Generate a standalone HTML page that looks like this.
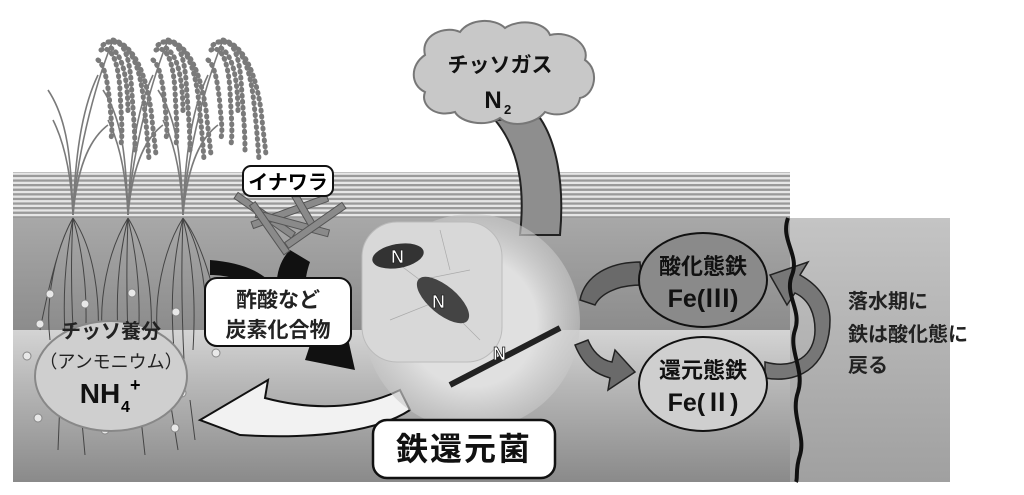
<!DOCTYPE html>
<html><head><meta charset="utf-8"><style>
html,body{margin:0;padding:0;background:#fff;}
svg{display:block;font-family:"Liberation Sans","Noto Sans CJK JP",sans-serif;}
</style></head><body>
<svg width="1024" height="495" viewBox="0 0 1024 495" xmlns="http://www.w3.org/2000/svg">
<defs>
<linearGradient id="up" x1="0" y1="0" x2="0" y2="1"><stop offset="0" stop-color="#a8a8a8"/><stop offset="1" stop-color="#8c8c8c"/></linearGradient>
<linearGradient id="low" x1="0" y1="0" x2="0" y2="1"><stop offset="0" stop-color="#d4d4d4"/><stop offset="0.35" stop-color="#b8b8b8"/><stop offset="1" stop-color="#8a8a8a"/></linearGradient>
<linearGradient id="rt" x1="0" y1="0" x2="0" y2="1"><stop offset="0" stop-color="#c4c4c4"/><stop offset="1" stop-color="#a0a0a0"/></linearGradient>
<radialGradient id="bac" cx="0.5" cy="0.5" r="0.5"><stop offset="0.6" stop-color="#e0e0e0"/><stop offset="1" stop-color="#c8c8c8" stop-opacity="0.6"/></radialGradient>
<pattern id="stripes" width="4" height="4.6" patternUnits="userSpaceOnUse"><rect width="4" height="4.6" fill="#e6e6e6"/><rect width="4" height="2.3" fill="#9a9a9a"/></pattern>
<g id="rice">
<g stroke="#7a7a7a" stroke-width="1.6" fill="none">
<path d="M0 195 C-2 140 -5 100 -25 70"/>
<path d="M0 195 C-2 150 -10 120 -20 100"/>
<path d="M0 195 C2 140 8 90 25 55"/>
<path d="M0 195 C4 150 15 120 35 105"/>
<path d="M0 195 C3 140 20 70 40 20"/>
</g>
<g stroke="#7a7a7a" stroke-width="5" stroke-linecap="round" stroke-dasharray="1 5" fill="none">
<path d="M30 25 C45 15 55 25 58 60 C60 90 62 110 62 130"/>
<path d="M28 30 C38 25 45 40 47 70 C48 95 50 110 48 125"/>
<path d="M35 22 C55 20 65 40 70 75 C73 100 75 125 76 140"/>
<path d="M25 40 C32 45 35 65 37 85 C38 100 40 110 38 118"/>
<path d="M40 20 C60 25 72 50 78 90 C80 110 82 125 83 135"/>
<path d="M38 28 C50 35 55 60 55 95"/>
</g>
</g>
</defs>
<!-- layers -->
<rect x="13" y="172" width="777" height="47" fill="url(#stripes)"/>
<rect x="790" y="218" width="160" height="264" fill="url(#rt)"/>
<rect x="13" y="218" width="777" height="112" fill="url(#up)"/>
<rect x="13" y="330" width="777" height="152" fill="url(#low)"/>
<!-- rice plants -->
<use href="#rice" x="73" y="20"/>
<use href="#rice" x="128" y="20"/>
<use href="#rice" x="183" y="20"/>
<!-- roots -->
<g stroke="#444" stroke-width="1" fill="none">
<path d="M73 218 C55 250 45 300 50 340 M73 218 C65 260 62 300 66 350 M73 218 C85 260 88 300 85 350 M73 218 C95 250 100 300 98 340 M73 218 C60 240 50 280 40 330 M73 218 C70 270 72 320 75 360"/>
<path d="M128 218 C108 250 98 300 103 340 M128 218 C118 260 115 300 119 350 M128 218 C138 260 141 300 138 350 M128 218 C148 250 153 300 151 340 M128 218 C126 270 127 320 129 360"/>
<path d="M183 218 C163 250 153 300 158 340 M183 218 C173 260 170 300 174 350 M183 218 C193 260 196 300 193 350 M183 218 C203 250 208 300 206 340 M183 218 C200 240 212 280 220 320 M183 218 C181 270 182 320 184 360"/>
<path d="M60 400 L58 450 M80 400 L85 455 M140 410 L145 455 M170 400 L178 450 M190 400 L195 440"/>
</g>
<g fill="#e8e8e8" stroke="#888" stroke-width="1">
<circle cx="50" cy="294" r="4"/><circle cx="40" cy="324" r="4"/><circle cx="27" cy="356" r="4"/><circle cx="43" cy="389" r="4"/><circle cx="38" cy="418" r="4"/><circle cx="70" cy="415" r="4"/><circle cx="105" cy="430" r="4"/><circle cx="145" cy="420" r="4"/><circle cx="175" cy="428" r="4"/><circle cx="182" cy="393" r="4"/><circle cx="216" cy="353" r="4"/><circle cx="176" cy="312" r="4"/><circle cx="132" cy="293" r="4"/><circle cx="85" cy="304" r="4"/>
</g>
<!-- cloud arrow -->
<path d="M495 120 C520 150 525 190 520 235 L560 235 C565 180 555 140 540 118 Z" fill="#8e8e8e" stroke="#222" stroke-width="2"/>
<!-- cloud -->
<path d="M425 55 C420 35 445 25 460 32 C470 18 495 18 505 28 C520 18 545 22 550 35 C570 30 590 45 585 60 C600 70 595 95 580 98 C578 112 560 118 545 112 C535 125 510 128 500 118 C485 128 460 122 455 112 C435 118 420 105 425 92 C410 85 410 65 425 55 Z" fill="#c8c8c8" stroke="#777" stroke-width="2"/>
<text x="500" y="72" text-anchor="middle" font-size="21" font-weight="bold" fill="#111">チッソガス</text>
<text x="493" y="108" text-anchor="middle" font-size="24" font-weight="bold" fill="#111">N</text>
<text x="504" y="114" font-size="13" font-weight="bold" fill="#111">2</text>
<!-- black arrow from straw -->
<path d="M290 250 C270 270 272 310 300 335 L310 345 L305 360 L355 370 L345 325 L332 338 C305 318 300 290 310 262 Z" fill="#111"/>
<path d="M210 260 C235 262 255 268 268 280 L255 290 C245 280 228 275 210 275 Z" fill="#111"/>
<!-- white arrow back to NH4 -->
<path d="M400 390 C360 410 310 410 265 398 L268 380 L200 420 L240 435 C320 440 380 430 410 410 Z" fill="#f2f2f2" stroke="#111" stroke-width="2"/>
<!-- bacteria disk -->
<circle cx="472" cy="322" r="108" fill="url(#bac)"/>
<rect x="362" y="222" width="140" height="140" rx="35" fill="#d8d8d8" stroke="#bbb"/>
<g stroke="#aaa" stroke-width="0.7" fill="none"><path d="M380 250 L420 280 L470 270 M390 320 L440 300 L480 340 M440 230 L450 270"/></g>
<ellipse cx="398" cy="256" rx="26" ry="12" fill="#333" transform="rotate(-10 398 256)"/>
<ellipse cx="443" cy="300" rx="32" ry="14" fill="#444" transform="rotate(40 443 300)"/>
<path d="M450 385 L560 328" stroke="#222" stroke-width="6"/>
<g font-size="18" font-weight="bold" fill="#fff" stroke="#222" stroke-width="0.8"><text x="391" y="263">N</text><text x="432" y="308">N</text><text x="493" y="360">N</text></g>
<!-- straw sticks -->
<g stroke="#555" stroke-width="1" fill="#8a8a8a">
<rect x="230" y="212" width="70" height="7" transform="rotate(35 265 215)"/>
<rect x="250" y="208" width="80" height="7" transform="rotate(-20 290 212)"/>
<rect x="255" y="220" width="75" height="7" transform="rotate(15 292 223)"/>
<rect x="240" y="225" width="60" height="7" transform="rotate(55 270 228)"/>
<rect x="270" y="200" width="60" height="7" transform="rotate(60 300 203)"/>
<rect x="280" y="222" width="70" height="7" transform="rotate(-35 315 225)"/>
</g>
<!-- labels -->
<rect x="243" y="166" width="90" height="30" rx="8" fill="#fff" stroke="#111" stroke-width="2"/>
<text x="288" y="189" text-anchor="middle" font-size="20" font-weight="bold">イナワラ</text>
<rect x="205" y="278" width="146" height="68" rx="12" fill="#fff" stroke="#111" stroke-width="2"/>
<text x="278" y="307" text-anchor="middle" font-size="21" font-weight="bold" fill="#222">酢酸など</text>
<text x="278" y="337" text-anchor="middle" font-size="21" font-weight="bold" fill="#222">炭素化合物</text>
<ellipse cx="111" cy="376" rx="76" ry="55" fill="#cfcfcf" stroke="#888" stroke-width="2"/>
<text x="111" y="338" text-anchor="middle" font-size="20" font-weight="bold" fill="#222">チッソ養分</text>
<text x="111" y="368" text-anchor="middle" font-size="18" fill="#222">（アンモニウム）</text>
<text x="100" y="403" text-anchor="middle" font-size="28" font-weight="bold" fill="#111">NH</text>
<text x="121" y="412" font-size="16" font-weight="bold">4</text>
<text x="130" y="391" font-size="18" font-weight="bold">+</text>
<rect x="373" y="420" width="182" height="58" rx="14" fill="#fff" stroke="#111" stroke-width="2.5"/>
<text x="464" y="460" text-anchor="middle" font-size="32" font-weight="bold" fill="#111" letter-spacing="2">鉄還元菌</text>
<!-- iron cycle arrows -->
<path d="M580 300 C585 275 610 262 640 262 L642 285 C615 285 600 295 595 305 Z" fill="#6a6a6a" stroke="#222" stroke-width="1.5"/>
<path d="M575 345 C585 370 600 375 610 378 L608 390 L635 372 L615 350 L612 362 C600 360 592 350 588 340 Z" fill="#6a6a6a" stroke="#222" stroke-width="1.5"/>
<path d="M765 378 C805 385 830 360 830 320 C830 300 818 285 800 275 L808 262 L770 275 L787 305 L795 293 C810 300 815 315 815 330 C815 355 795 370 765 362 Z" fill="#777" stroke="#222" stroke-width="1.5"/>
<ellipse cx="703" cy="280" rx="64" ry="47" fill="#8a8a8a" stroke="#111" stroke-width="2"/>
<text x="703" y="274" text-anchor="middle" font-size="22" font-weight="bold" fill="#111">酸化態鉄</text>
<text x="703" y="307" text-anchor="middle" font-size="25" font-weight="bold" fill="#111">Fe(Ⅲ)</text>
<ellipse cx="703" cy="384" rx="64" ry="47" fill="#cfcfcf" stroke="#111" stroke-width="2"/>
<text x="703" y="378" text-anchor="middle" font-size="22" font-weight="bold" fill="#111">還元態鉄</text>
<text x="703" y="411" text-anchor="middle" font-size="25" font-weight="bold" fill="#111">Fe(Ⅱ)</text>
<path d="M788 218 C780 240 800 255 792 275 C784 295 802 310 795 330 C788 350 805 370 798 392 C790 415 806 435 800 455 C795 470 798 478 796 482" stroke="#111" stroke-width="4" fill="none"/>
<g font-size="20" font-weight="bold" fill="#222">
<text x="848" y="308">落水期に</text>
<text x="848" y="341">鉄は酸化態に</text>
<text x="848" y="372">戻る</text>
</g>
</svg>
</body></html>
